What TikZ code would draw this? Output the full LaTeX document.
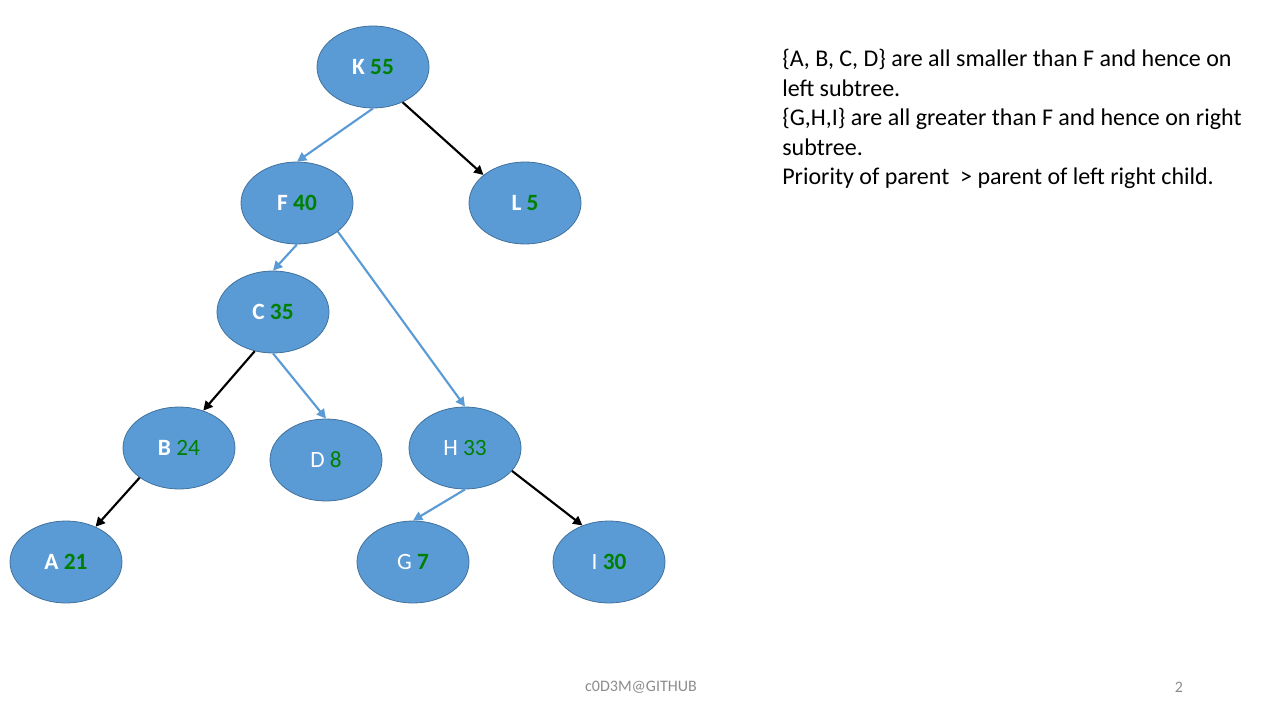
\documentclass[tikz,border=0pt]{standalone}
\usepackage{fontspec}
\setmainfont{Carlito}
\usetikzlibrary{arrows.meta,shapes.geometric}

\definecolor{treapfill}{HTML}{5B9BD5}
\definecolor{treapdraw}{HTML}{41719C}
\definecolor{prio}{RGB}{0,128,0}
\definecolor{footgray}{HTML}{8C8C8C}

\tikzset{
    treap/.style={ellipse, fill=treapfill, draw=treapdraw, line width=0.6pt,
        minimum width=84pt, minimum height=61.5pt, text=white,
        font=\fontsize{17.5}{20}\selectfont},
    blueedge/.style={treapfill, line width=1.6pt, -{Triangle[length=7pt,width=7pt]}},
    blackedge/.style={black, line width=1.6pt, -{Triangle[length=7pt,width=7pt]}}
}

\begin{document}
\begin{tikzpicture}[x=0.75pt,y=-0.75pt]
        \useasboundingbox (0,0) rectangle (1280,720);
        % nodes: key and priority
        \node[treap] (K) at (373,67) {\textbf{K} \textcolor{prio}{\textbf{55}}};
        \node[treap] (F) at (297,203) {\textbf{F} \textcolor{prio}{\textbf{40}}};
        \node[treap] (L) at (525,203) {\textbf{L} \textcolor{prio}{\textbf{5}}};
        \node[treap] (C) at (273,312) {\textbf{C} \textcolor{prio}{\textbf{35}}};
        \node[treap] (B) at (179,448) {\textbf{B} \textcolor{prio}{24}};
        \node[treap] (D) at (326,460) {D \textcolor{prio}{8}};
        \node[treap] (H) at (465,448) {H \textcolor{prio}{33}};
        \node[treap] (A) at (66,562) {\textbf{A} \textcolor{prio}{\textbf{21}}};
        \node[treap] (G) at (413,562) {G \textcolor{prio}{\textbf{7}}};
        \node[treap] (I) at (609,562) {I \textcolor{prio}{\textbf{30}}};
        % edges
        \draw[blueedge] (K.south) -- (F.north);
        \draw[blackedge] (K.-50) -- (L.146);
        \draw[blueedge] (F.south) -- (C.north);
        \draw[blueedge] (F.-35) -- (H.north);
        \draw[blackedge] (C.-115) -- (B.57);
        \draw[blueedge] (C.south) -- (D.north);
        \draw[blackedge] (B.-143) -- (A.50);
        \draw[blueedge] (H.south) -- (G.north);
        \draw[blackedge] (H.-26) -- (I.126);
        % explanation
        \node[anchor=north west, align=left, inner sep=0pt,
            font=\fontsize{18}{22.1}\selectfont] (note) at (782,49)
            {\{A, B, C, D\} are all smaller than F and hence on\\
             left subtree.\\
             \{G,H,I\} are all greater than F and hence on right\\
             subtree.\\
             Priority of parent\ \ > parent of left right child.};
        \node[text=footgray, font=\fontsize{12}{14}\selectfont] (foot) at (641,687) {c0D3M@GITHUB};
        \node[text=footgray, font=\fontsize{12}{14}\selectfont] (page) at (1179,687) {2};
    \end{tikzpicture}
\end{document}
